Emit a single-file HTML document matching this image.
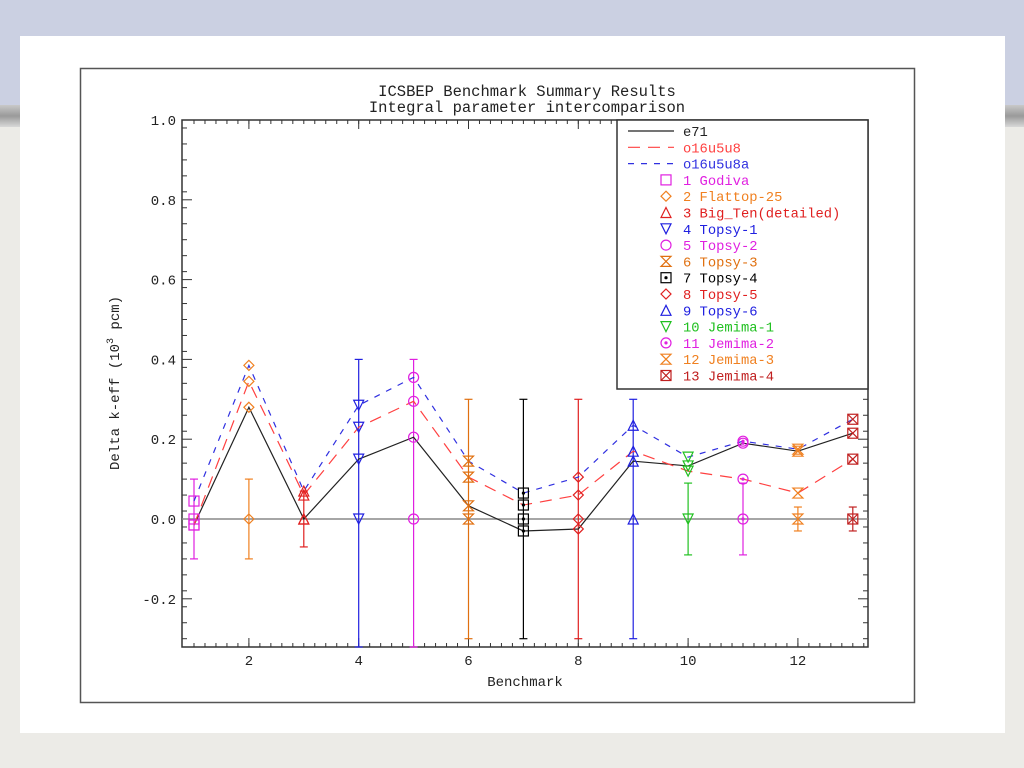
<!DOCTYPE html>
<html><head><meta charset="utf-8"><style>
body{margin:0;width:1024px;height:768px;overflow:hidden;background:#ecebe7;font-family:"Liberation Mono",monospace;}
#bgtop{position:absolute;left:0;top:0;width:1024px;height:105px;background:#cbd0e2;}
#bgband{position:absolute;left:0;top:105px;width:1024px;height:22px;background:linear-gradient(#c8c8c8,#9a9a9a 50%,#d8d8d8);}
#panel{position:absolute;left:20px;top:36px;width:985px;height:697px;background:#fff;}
svg{position:absolute;left:0;top:0;}
</style></head><body>
<div id="bgtop"></div>
<div id="bgband"></div>
<div id="panel"></div>
<svg id="c" width="1024" height="768"></svg>
<script>
const benchmarks=[1,2,3,4,5,6,7,8,9,10,11,12,13];
const e71=[-0.015,0.28,0.0,0.15,0.205,0.033,-0.03,-0.025,0.145,0.133,0.19,0.17,0.215];
const o16u5u8=[-0.015,0.345,0.06,0.23,0.295,0.105,0.035,0.06,0.17,0.12,0.1,0.065,0.15];
const o16u5u8a=[0.045,0.385,0.07,0.285,0.355,0.145,0.065,0.105,0.235,0.155,0.195,0.175,0.25];
const expVal=[0,0,0,0,0,0,0,0,0,0,0,0,0];
const expErr=[0.1,0.1,0.07,0.4,0.4,0.3,0.3,0.3,0.3,0.09,0.09,0.03,0.03];
const names=["1 Godiva","2 Flattop-25","3 Big_Ten(detailed)","4 Topsy-1","5 Topsy-2","6 Topsy-3","7 Topsy-4","8 Topsy-5","9 Topsy-6","10 Jemima-1","11 Jemima-2","12 Jemima-3","13 Jemima-4"];
const colors=["#e020e0","#f08020","#e02020","#2020e0","#e020e0","#e07010","#000000","#e02020","#2020e0","#20c020","#e020e0","#f08020","#c02020"];
const shapes=["sq","dia","tri","tri-d","circ","hour","sqdot","dia","tri","tri-d","circdot","hour","sqx"];
const yTicks=[-0.2,0,0.2,0.4,0.6,0.8,1.0];
const xTicks=[2,4,6,8,10,12];
const L=182,R=868,T=120,B=647;
const X=v=>194+(v-1)*54.9;
const Y=v=>519-v*399;
const ns="http://www.w3.org/2000/svg";
const svg=document.getElementById('c');
function el(t,a,p){const e=document.createElementNS(ns,t);for(const k in a)e.setAttribute(k,a[k]);(p||svg).appendChild(e);return e;}
const frame=el('rect',{x:80.5,y:68.5,width:834,height:634,fill:'#fff',stroke:'#555','stroke-width':1.5});

function txt(s,x,y,a,name){const t=el('text',Object.assign({x:x,y:y,'font-family':'"Liberation Mono",monospace','font-size':14,fill:'#222'},a));t.textContent=s;return t;}
txt('ICSBEP Benchmark Summary Results',527,96,{'text-anchor':'middle','font-size':15.5},'chart-title');
txt('Integral parameter intercomparison',527,112,{'text-anchor':'middle','font-size':15.5},'chart-subtitle');
txt('Benchmark',525,686,{'text-anchor':'middle','font-size':14},'x-axis-title');
const yt=txt('',0,0,{'text-anchor':'middle','font-size':14,transform:'translate(119,383) rotate(-90)'},'y-axis-title');
yt.innerHTML='Delta k-eff (10<tspan dy="-6" font-size="10">3</tspan><tspan dy="6"> pcm)</tspan>';
// axes box
const ax=el('rect',{x:L,y:T,width:R-L,height:B-T,fill:'none',stroke:'#333','stroke-width':1.5});

// minor ticks
for(let v=-0.3;v<=1.0001;v+=0.04){const y=Y(v);if(y>B||y<T)continue;el('line',{x1:L,x2:L+5,y1:y,y2:y,stroke:'#333'});el('line',{x1:R,x2:R-5,y1:y,y2:y,stroke:'#333'});}
for(let v=1;v<=13.2;v+=0.2){const x=X(v);if(x<L||x>R)continue;el('line',{x1:x,x2:x,y1:B,y2:B-4,stroke:'#333'});el('line',{x1:x,x2:x,y1:T,y2:T+4,stroke:'#333'});}
yTicks.forEach(v=>{const y=Y(v);el('line',{x1:L,x2:L+10,y1:y,y2:y,stroke:'#333'});el('line',{x1:R,x2:R-10,y1:y,y2:y,stroke:'#333'});
 txt(v.toFixed(1),176,y+5,{'text-anchor':'end'},'y-tick-label');});
xTicks.forEach(v=>{const x=X(v);el('line',{x1:x,x2:x,y1:B,y2:B-9,stroke:'#333'});el('line',{x1:x,x2:x,y1:T,y2:T+9,stroke:'#333'});
 txt(String(v),x,665,{'text-anchor':'middle'},'x-tick-label');});
// zero line
el('line',{x1:L,x2:R,y1:Y(0),y2:Y(0),stroke:'#888','stroke-width':1.5});
// error bars
benchmarks.forEach((b,i)=>{const x=X(b);const y1=Math.max(Y(expVal[i]+expErr[i]),T),y2=Math.min(Y(expVal[i]-expErr[i]),B);
 const g=el('g',{stroke:colors[i],'stroke-width':1.2});
 
 el('line',{x1:x,x2:x,y1:y1,y2:y2},g);el('line',{x1:x-4,x2:x+4,y1:y1,y2:y1},g);el('line',{x1:x-4,x2:x+4,y1:y2,y2:y2},g);});
// series lines
function line(arr,col,dash,name){const p=el('polyline',{points:benchmarks.map((b,i)=>X(b)+','+Y(arr[i])).join(' '),fill:'none',stroke:col,'stroke-width':1.2,'stroke-dasharray':dash});
 }
line(e71,'#222','','e71-line');
line(o16u5u8,'#ff4040','12,8','o16u5u8-line');
line(o16u5u8a,'#3030e0','6,7','o16u5u8a-line');
function marker(shape,x,y,c,parent){const g=el('g',{stroke:c,fill:'none','stroke-width':1.2},parent);const s=5;
 if(shape.startsWith('sq'))el('rect',{x:x-s,y:y-s,width:2*s,height:2*s},g);
 if(shape==='sqdot')el('circle',{cx:x,cy:y,r:1,fill:c},g);
 if(shape==='sqx'){el('line',{x1:x-s,y1:y-s,x2:x+s,y2:y+s},g);el('line',{x1:x+s,y1:y-s,x2:x-s,y2:y+s},g);}
 if(shape==='dia')el('polygon',{points:`${x},${y-s} ${x+s},${y} ${x},${y+s} ${x-s},${y}`},g);
 if(shape==='tri')el('polygon',{points:`${x},${y-s} ${x+s},${y+s} ${x-s},${y+s}`},g);
 if(shape==='tri-d')el('polygon',{points:`${x},${y+s} ${x+s},${y-s} ${x-s},${y-s}`},g);
 if(shape.startsWith('circ'))el('circle',{cx:x,cy:y,r:s},g);
 if(shape==='circdot')el('circle',{cx:x,cy:y,r:1,fill:c},g);
 if(shape==='hour'){el('polygon',{points:`${x-s},${y-s} ${x+s},${y-s} ${x-s},${y+s} ${x+s},${y+s}`},g);}
 return g;}
benchmarks.forEach((b,i)=>{[expVal,e71,o16u5u8,o16u5u8a].forEach((arr,k)=>{
 const m=marker(shapes[i],X(b),Y(arr[i]),colors[i]);
 
 });});
// legend
const lg=el('g',{});
el('rect',{x:617,y:120,width:251,height:269,fill:'#fff',stroke:'#333','stroke-width':1.5},lg);
const ly=i=>131+i*16.3;
[['e71','#222',''],['o16u5u8','#ff4040','12,8'],['o16u5u8a','#3030e0','6,7']].forEach((s,i)=>{
 el('line',{x1:628,x2:674,y1:ly(i),y2:ly(i),stroke:s[1],'stroke-width':1.2,'stroke-dasharray':s[2]},lg);
 const t=txt(s[0],683,ly(i)+5,{fill:s[1],'font-size':13.8},'legend-entry-'+s[0]);lg.appendChild(t);});
names.forEach((n,i)=>{const y=ly(i+3);marker(shapes[i],666,y,colors[i],lg);
 const t=txt(n,683,y+5,{fill:colors[i],'font-size':13.8},'legend-entry-'+(i+1));lg.appendChild(t);});
</script>
</body></html>
